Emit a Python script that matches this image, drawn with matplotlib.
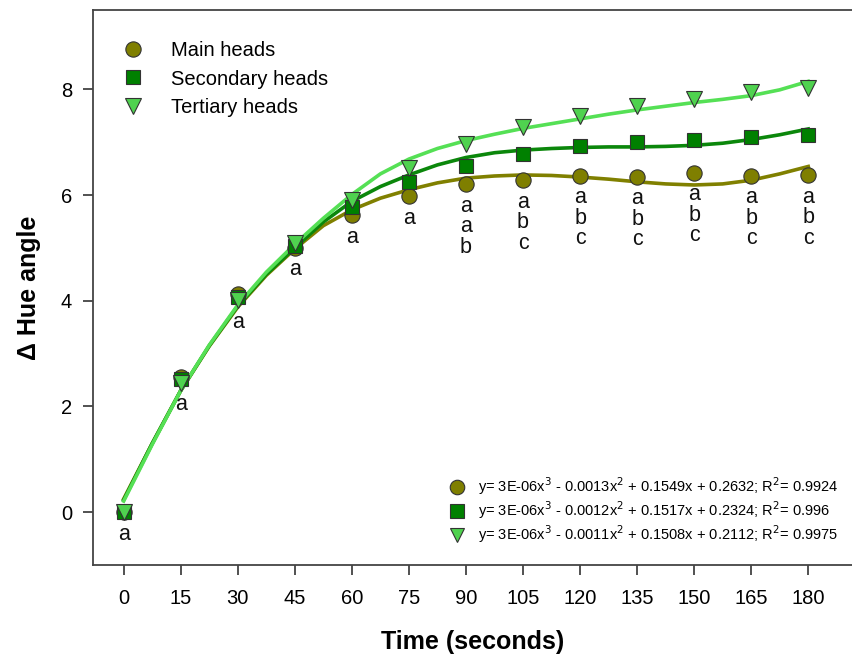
import numpy as np
import matplotlib.pyplot as plt

plt.rcParams['font.family'] = ['Liberation Sans', 'DejaVu Sans']

#
# data
#
time_s = [0, 15, 30, 45, 60, 75, 90, 105, 120, 135, 150, 165, 180]
main_heads = [0.0, 2.55, 4.12, 5.0, 5.62, 5.98, 6.20, 6.28, 6.36, 6.35, 6.42, 6.36, 6.37]
secondary_heads = [0.0, 2.51, 4.08, 5.04, 5.78, 6.24, 6.55, 6.77, 6.92, 7.00, 7.04, 7.09, 7.13]
tertiary_heads = [0.0, 2.45, 4.01, 5.10, 5.90, 6.52, 6.96, 7.28, 7.50, 7.68, 7.82, 7.94, 8.03]

# letters of the multiple comparison, one group per time
letters = [['a'], ['a'], ['a'], ['a'], ['a'], ['a'],
           ['a', 'a', 'b'], ['a', 'b', 'c'], ['a', 'b', 'c'], ['a', 'b', 'c'],
           ['a', 'b', 'c'], ['a', 'b', 'c'], ['a', 'b', 'c']]

# fitted curves as drawn in the figure (read every 7.5 s)
fit_time = [0, 7.5, 15, 22.5, 30, 37.5, 45, 52.5, 60, 67.5, 75, 82.5, 90,
            97.5, 105, 112.5, 120, 127.5, 135, 142.5, 150, 157.5, 165, 172.5, 180]
fit_main = [0.25, 1.30, 2.30, 3.14, 3.88, 4.48, 4.98, 5.42, 5.72, 5.94, 6.10, 6.23, 6.32,
            6.36, 6.38, 6.37, 6.34, 6.30, 6.25, 6.21, 6.19, 6.21, 6.28, 6.40, 6.54]
fit_secondary = [0.23, 1.30, 2.30, 3.15, 3.90, 4.50, 5.00, 5.49, 5.88, 6.16, 6.38, 6.57, 6.71,
                 6.80, 6.85, 6.88, 6.90, 6.91, 6.91, 6.92, 6.94, 6.98, 7.05, 7.14, 7.25]
fit_tertiary = [0.21, 1.28, 2.30, 3.16, 3.92, 4.54, 5.07, 5.56, 6.01, 6.40, 6.68, 6.88, 7.03,
                7.15, 7.26, 7.35, 7.44, 7.53, 7.61, 7.68, 7.75, 7.81, 7.88, 7.99, 8.15]

labels = ['Main heads', 'Secondary heads', 'Tertiary heads']
equations = [r'y= 3E-06x$^3$ - 0.0013x$^2$ + 0.1549x + 0.2632; R$^2$= 0.9924',
             r'y= 3E-06x$^3$ - 0.0012x$^2$ + 0.1517x + 0.2324; R$^2$= 0.996',
             r'y= 3E-06x$^3$ - 0.0011x$^2$ + 0.1508x + 0.2112; R$^2$= 0.9975']

marker_colors = ['#7f7f00', '#008000', '#4fd24f']
line_colors = ['#808000', '#0b870b', '#55e055']
markers = ['o', 's', 'v']
sizes = [11, 10, 11]

fig = plt.figure(figsize=(8.52, 6.59), dpi=100)
ax = fig.add_axes([0.109, 0.1426, 0.891, 0.8422])

fits = [fit_main, fit_secondary, fit_tertiary]
series = [main_heads, secondary_heads, tertiary_heads]

for i in range(3):
    ax.plot(fit_time, fits[i], color=line_colors[i], lw=2.6, zorder=2)

handles = []
for i in range(3):
    h, = ax.plot(time_s, series[i], ls='none', marker=markers[i], ms=sizes[i],
                 mfc=marker_colors[i], mec='#333333', mew=0.8, zorder=3)
    handles.append(h)

# letters under the points
for t, grp, a, b, c in zip(time_s, letters, main_heads, secondary_heads, tertiary_heads):
    low = min(a, b, c)
    for j, s in enumerate(grp):
        ax.annotate(s, (t, low), xytext=(0, -22 - 20.5 * j), textcoords='offset pixels',
                    ha='center', va='center', fontsize=15.5, color='#111111')

leg1 = ax.legend(handles, labels, loc='upper left', bbox_to_anchor=(0.002, 0.976),
                 frameon=False, fontsize=14.5, handletextpad=0.9, labelspacing=0.45,
                 borderaxespad=0.5)
ax.add_artist(leg1)
ax.legend(handles, equations, loc='lower right', bbox_to_anchor=(1.0, 0.012),
          frameon=False, fontsize=10.5, handletextpad=0.5, labelspacing=0.17,
          markerscale=0.95)

ax.set_xlim(-8.1, 191.5)
ax.set_ylim(-1.0, 9.5)
ax.set_xticks(time_s)
ax.set_yticks([0, 2, 4, 6, 8])
ax.tick_params(axis='both', direction='out', length=7, width=1.2, color='#333333',
               labelsize=14.5, pad=10)
ax.tick_params(axis='y', pad=8)

for side in ['left', 'bottom', 'top']:
    ax.spines[side].set_color('#444444')
    ax.spines[side].set_linewidth(1.3)
ax.spines['right'].set_visible(False)

ax.set_xlabel('Time (seconds)', fontsize=18, fontweight='bold', labelpad=16)
ax.set_ylabel('Δ Hue angle', fontsize=18, fontweight='bold', labelpad=14)

fig.savefig('out.png', dpi=100)
